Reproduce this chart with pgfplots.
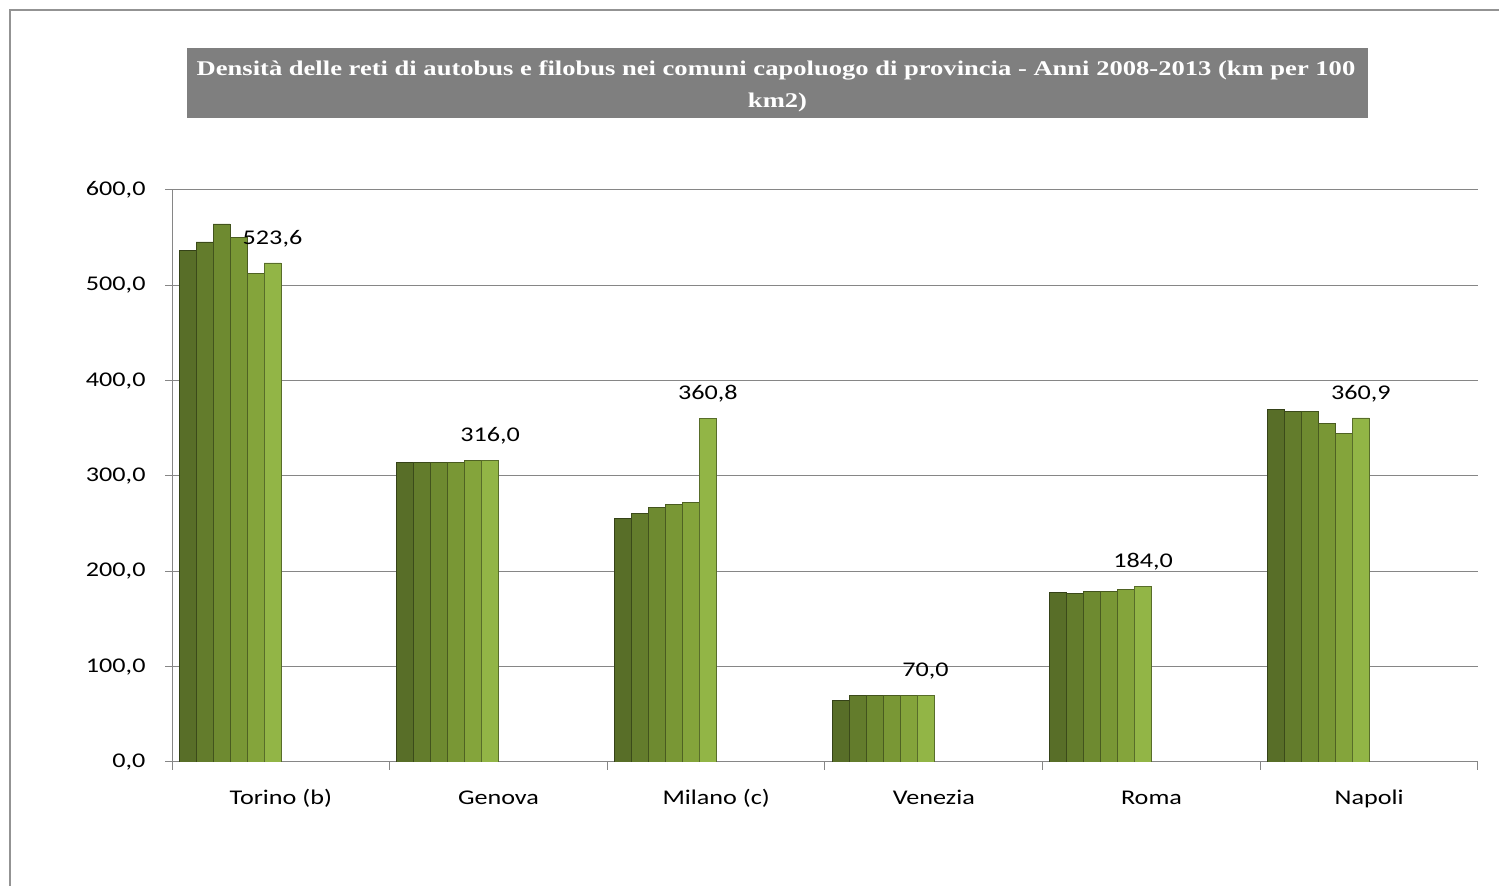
\documentclass[border=0pt]{standalone}
\usepackage{pgfplots}
\usepackage{pgfplotstable}
\pgfplotsset{compat=1.18}
\usepackage{fontspec}
\setmainfont[FakeStretch=1.25]{Carlito}
\newfontfamily\titlefont[FakeStretch=1.27]{Liberation Serif}
\definecolor{gA}{RGB}{88,110,40}
\definecolor{gB}{RGB}{99,124,44}
\definecolor{gC}{RGB}{110,138,48}
\definecolor{gD}{RGB}{121,151,53}
\definecolor{gE}{RGB}{132,164,59}
\definecolor{gF}{RGB}{146,181,70}
\definecolor{gridgray}{RGB}{134,134,134}
\definecolor{titlegray}{RGB}{127,127,127}
\pgfplotstableread{
x y1 y2 y3 y4 y5 y6
0 536.5 545.5 564.5 550.0 512.5 523.6
1 314.5 314.5 314.5 314.5 316.0 316.0
2 255.5 260.5 267.0 270.0 272.5 360.8
3 64.5 70.0 70.0 70.0 70.0 70.0
4 178.0 176.5 179.0 179.0 181.0 184.0
5 369.5 367.5 367.5 355.0 344.5 360.9
}\datatable
\begin{document}
\begin{tikzpicture}[x=1bp,y=1bp]
\useasboundingbox (0,0) rectangle (1499,885);
\draw[gray!85, line width=1.5bp] (10,-20) rectangle (1530,875);
\fill[titlegray] (187,767) rectangle (1368,837);
\node[text=white, font=\titlefont\bfseries\fontsize{21}{25}\selectfont, inner sep=0pt, anchor=base] at (776,809) {Densità delle reti di autobus e filobus nei comuni capoluogo di provincia - Anni 2008-2013 (km per 100};
\node[text=white, font=\titlefont\bfseries\fontsize{21}{25}\selectfont, inner sep=0pt, anchor=base] at (777.5,777) {km2)};
\begin{axis}[
  at={(172bp,123bp)}, anchor=south west,
  scale only axis, width=1306bp, height=572bp,
  xmin=-0.5, xmax=5.5, ymin=0, ymax=600,
  axis lines*=left,
  axis line style={draw=gridgray, line width=1bp},
  ymajorgrids, grid style={draw=gridgray, line width=1bp},
  ytick={0,100,...,600},
  xtick={0,...,5},
  xticklabels={Torino (b),Genova,Milano (c),Venezia,Roma,Napoli},
  minor xtick={-0.5,0.5,...,5.5},
  tick align=outside,
  major tick length=7bp, minor tick length=8bp,
  major x tick style={draw=none},
  tick style={draw=gridgray, line width=1bp},
  ticklabel style={font=\fontsize{21}{25}\selectfont},
  yticklabel style={xshift=-16bp},
  xticklabel style={anchor=base, yshift=-36bp},
  /pgf/number format/.cd, use comma, fixed, fixed zerofill, precision=1, assume math mode=true,
  /pgfplots/.cd,
  ybar, bar width=0.078, bar shift=0pt,
]
\addplot[fill=gA, draw=gA!60!black, line width=0.6bp] table[x expr=\thisrow{x}-0.4288, y=y1] {\datatable};
\addplot[fill=gB, draw=gB!60!black, line width=0.6bp] table[x expr=\thisrow{x}-0.3507, y=y2] {\datatable};
\addplot[fill=gC, draw=gC!60!black, line width=0.6bp] table[x expr=\thisrow{x}-0.2726, y=y3] {\datatable};
\addplot[fill=gD, draw=gD!60!black, line width=0.6bp] table[x expr=\thisrow{x}-0.1945, y=y4] {\datatable};
\addplot[fill=gE, draw=gE!60!black, line width=0.6bp] table[x expr=\thisrow{x}-0.1164, y=y5] {\datatable};
\addplot[fill=gF, draw=gF!60!black, line width=0.6bp,
  nodes near coords, every node near coord/.append style={font=\fontsize{21}{25}\selectfont, text=black, anchor=south, yshift=12.5bp}]
  table[x expr=\thisrow{x}-0.0383, y=y6] {\datatable};
\end{axis}
\end{tikzpicture}
\end{document}
